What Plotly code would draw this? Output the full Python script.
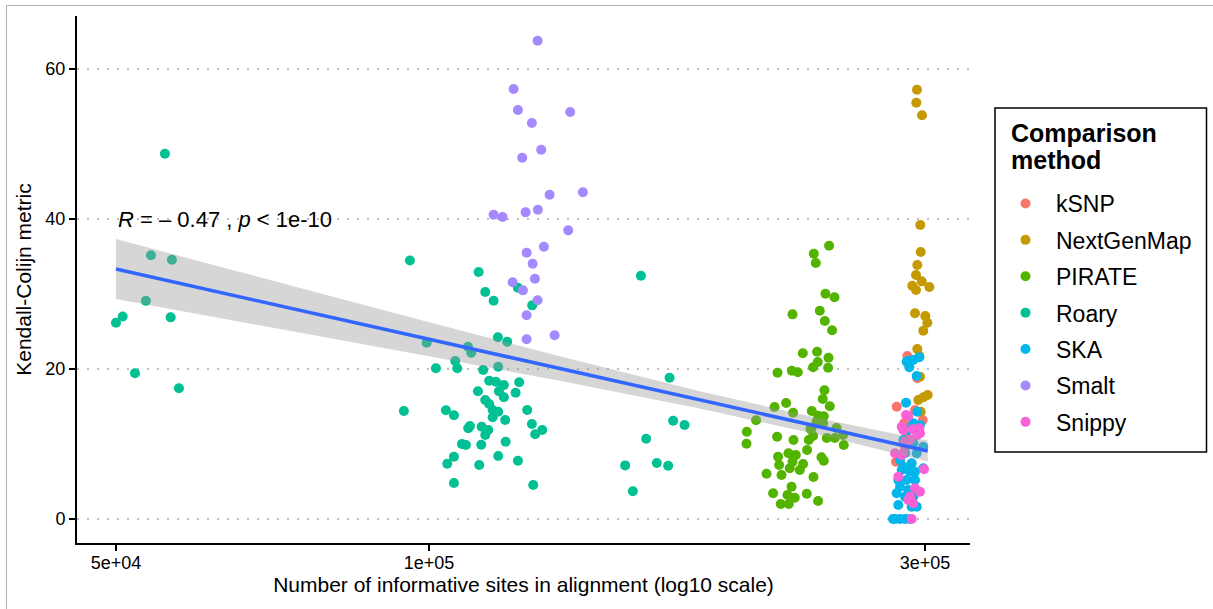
import plotly.graph_objects as go

# ---------------- data ----------------
methods = ["kSNP", "NextGenMap", "PIRATE", "Roary", "SKA", "Smalt", "Snippy"]
colors = ["#F8766D", "#C49A00", "#53B400", "#00C094", "#00B6EB", "#A58AFF", "#FB61D7"]

ksnp_x = [288470, 281780, 293430, 298480, 286380, 294930, 281340, 288090, 287010]
ksnp_y = [21.73, 14.97, 14.53, 13.2, 12.76, 18.76, 7.64, 10.97, 9.47]

ngm_x = [294730, 294280, 298010, 296900, 297160, 294930, 294080, 297820, 291680, 294080, 302870,
         293430, 300200, 301530, 298870, 294930, 296240, 296700, 295580, 298870, 301800, 297160]
ngm_y = [57.24, 55.51, 53.83, 39.2, 35.6, 33.87, 32.53, 31.69, 31.11, 30.53, 30.93,
         27.43, 27.07, 26.17, 25.11, 22.67, 21.73, 18.97, 15.87, 16.23, 16.53, 14.31]

pirate_x = [242580, 234510, 235550, 240650, 245500, 223710, 237640, 240290, 244200, 228860,
            236230, 242260, 236590, 234150, 242050, 216400, 223360, 226340, 240130, 239220,
            242960, 220560, 214960, 233470, 224010, 236750, 239750, 206390, 236440, 232800,
            246590, 234150, 241350, 245660, 250210, 202180, 202040, 216210, 224200, 231930,
            231060, 250590, 216690, 221730, 225350, 217170, 223710, 229010, 227350, 222370,
            218330, 211190, 238540, 239750, 234350, 223220, 214300, 221230, 224830, 230900,
            217980, 221870, 236750, 233360, 235920, 239380]
pirate_y = [36.44, 35.37, 34.13, 30.04, 29.56, 27.29, 27.77, 26.4, 25.16, 22.09,
            22.31, 21.51, 20.93, 20.23, 20.17, 19.51, 19.77, 19.56, 17.16, 16.0,
            15.03, 15.47, 14.93, 14.4, 14.17, 13.77, 13.69, 13.16, 13.03, 12.0,
            12.13, 11.07, 10.8, 10.8, 11.2, 11.64, 10.04, 10.97, 10.53, 10.53,
            9.2, 9.87, 8.31, 8.76, 8.53, 7.2, 7.64, 7.33, 6.53, 6.76,
            5.87, 6.04, 8.23, 7.77, 5.6, 4.31, 3.43, 3.2, 2.84, 3.37,
            2.0, 2.0, 2.4, 12.09, 12.97, 12.76]

roary_x = [50000, 50750, 53430, 56440, 52150, 57480, 55730, 54030, 56600, 95880,
           94600, 99490, 101560, 111630, 113280, 115400, 121780, 125700, 159900, 109020,
           109820, 116500, 118930, 106000, 106470, 112770, 116580, 170390, 114280, 115990,
           118060, 122130, 111460, 116760, 121160, 118060, 113280, 114280, 115150, 116580,
           115150, 118400, 103840, 105690, 124310, 125610, 126530, 128510, 109500, 109090,
           112380, 114030, 113280, 171740, 176140, 161780, 107580, 108540, 112280, 118510,
           105690, 104140, 116580, 121780, 111780, 154430, 165650, 169860, 105690, 125980,
           157070]
roary_y = [26.17, 27.0, 29.09, 26.89, 19.43, 17.43, 48.71, 35.16, 34.56, 34.47,
           14.4, 23.51, 20.09, 32.93, 30.27, 29.11, 30.84, 28.49, 32.44, 22.97,
           22.17, 24.23, 23.64, 21.07, 20.09, 19.87, 20.31, 18.84, 18.44, 18.31,
           17.87, 18.23, 17.03, 17.03, 16.84, 16.23, 15.87, 15.33, 14.53, 14.31,
           13.56, 13.2, 14.49, 13.83, 14.53, 12.67, 11.29, 11.87, 12.4, 12.09,
           12.31, 11.87, 11.2, 13.11, 12.53, 10.71, 10.0, 9.87, 9.91, 10.31,
           8.31, 7.37, 8.4, 7.77, 7.2, 7.15, 7.47, 7.11, 4.8, 4.53,
           3.69]

ska_x = [289110, 292330, 296240, 289750, 294540, 287650, 294930, 292330, 296700, 295580,
         291290, 298870, 287010, 283850, 291290, 298870, 285930, 290200, 282780, 293430,
         283850, 289110, 281780, 287010, 292330, 282780, 291290, 280720, 283850, 287010,
         290200, 292330, 294540, 288090, 284920, 293430, 294540, 288090, 279480, 289110,
         285930]
ska_y = [21.11, 21.2, 21.56, 20.23, 19.07, 15.51, 14.31, 12.76, 12.53, 11.43,
         10.53, 9.64, 8.76, 7.87, 7.43, 6.76, 6.97, 6.31, 5.2, 5.2,
         4.31, 3.87, 3.43, 2.97, 2.97, 1.87, 1.64, 0.0, 0.0, 0.0,
         0.0, 10.09, 8.76, 5.2, 6.53, 6.31, 1.64, 20.97, 0.0, 11.87,
         10.53]

smalt_x = [127210, 120630, 121780, 136730, 125610, 128230, 122950, 130630, 140630, 115400,
           117720, 123870, 127290, 136130, 129000, 124150, 125810, 126450, 120360, 123140,
           127210, 124150, 124150, 132090]
smalt_y = [63.77, 57.33, 54.53, 54.27, 52.8, 49.24, 48.17, 43.24, 43.56, 40.57,
           40.27, 40.89, 41.24, 38.49, 36.31, 35.51, 34.04, 32.04, 31.56, 30.49,
           29.16, 27.16, 23.96, 24.49]

snippy_x = [287650, 285930, 291940, 294930, 296240, 290200, 287010, 280720, 284920, 282780,
            296700, 293430, 290200, 292330, 291290, 299340, 289110, 296700, 285930, 289110,
            284920]
snippy_y = [13.87, 11.87, 11.96, 11.2, 12.09, 10.53, 10.31, 8.76, 8.53, 5.64,
            3.64, 4.09, 2.97, 2.09, 0.0, 6.63, 13.73, 11.43, 8.76, 2.53,
            12.31]

series_x = [ksnp_x, ngm_x, pirate_x, roary_x, ska_x, smalt_x, snippy_x]
series_y = [ksnp_y, ngm_y, pirate_y, roary_y, ska_y, smalt_y, snippy_y]

# linear fit (log10 x) and its 95% confidence band
fit_x = [50000, 70300, 102400, 133600, 182200, 241400, 269000, 301800]
fit_y = [33.33, 28.73, 23.65, 20.06, 15.88, 12.09, 10.62, 9.07]
fit_lower = [29.33, 25.59, 21.43, 18.42, 14.74, 10.99, 9.40, 7.67]
fit_upper = [37.33, 31.87, 25.87, 21.70, 17.02, 13.19, 11.84, 10.47]

x_ticks = [50000, 100000, 300000]
x_ticktext = ["5e+04", "1e+05", "3e+05"]
y_ticks = [0, 20, 40, 60]

annot_text = "<i>R</i> = – 0.47 , <i>p</i> < 1e-10"
legend_title_lines = ["Comparison", "method"]

# ---------------- figure ----------------
FONT = "Liberation Sans, Arial, sans-serif"
fig = go.Figure()

for i, m in enumerate(methods):
    fig.add_trace(go.Scatter(
        x=series_x[i], y=series_y[i], mode="markers", name=m,
        legendgroup=m,
        marker=dict(color=colors[i], size=10, line=dict(width=0)),
    ))

band_x = fit_x + fit_x[::-1]
band_y = fit_upper + fit_lower[::-1]
fig.add_trace(go.Scatter(
    x=band_x, y=band_y, mode="lines", fill="toself",
    fillcolor="rgba(153,153,153,0.4)", line=dict(width=0),
    showlegend=False, hoverinfo="skip",
))
fig.add_trace(go.Scatter(
    x=fit_x, y=fit_y, mode="lines", line=dict(color="#3366FF", width=3.5),
    showlegend=False,
))

fig.add_annotation(
    x=4.699, y=40, xref="x", yref="y", text=annot_text, showarrow=False,
    xanchor="left", yanchor="middle", font=dict(family=FONT, size=22, color="black"),
)

# legend title lines (drawn as text, pixel-placed)
for line_text, ypx in zip(legend_title_lines, [133, 160]):
    fig.add_annotation(
        x=(1009 - 77) / 893, y=(543 - ypx) / 527, xref="paper", yref="paper",
        text="<b>" + line_text + "</b>", showarrow=False,
        xanchor="left", yanchor="middle",
        font=dict(family=FONT, size=25, color="black"),
    )

fig.update_layout(
    width=1213, height=609,
    margin=dict(l=77, r=243, t=16, b=66),
    paper_bgcolor="white", plot_bgcolor="white",
    font=dict(family=FONT, color="black"),
    showlegend=True,
    legend=dict(
        x=1.028, y=(543 - 182) / 527, xanchor="left", yanchor="top",
        bgcolor="rgba(0,0,0,0)", borderwidth=0,
        font=dict(family=FONT, size=23, color="black"),
        tracegroupgap=3.5, itemwidth=51,
    ),
    xaxis=dict(
        type="log", range=[4.6615, 5.5204],
        tickvals=x_ticks, ticktext=x_ticktext,
        showgrid=False, zeroline=False,
        showline=True, linecolor="black", linewidth=2,
        ticks="outside", ticklen=6, tickwidth=2, tickcolor="black",
        ticklabelstandoff=-4,
        tickfont=dict(family=FONT, size=18, color="black"),
        title=dict(text="Number of informative sites in alignment (log10 scale)",
                   font=dict(family=FONT, size=21, color="black"), standoff=5),
    ),
    yaxis=dict(
        range=[-3.2, 67.07],
        tickvals=y_ticks,
        showgrid=True, gridcolor="#BEBEBE", gridwidth=2, griddash="2px,8px",
        zeroline=False,
        showline=True, linecolor="black", linewidth=2,
        ticks="outside", ticklen=6, tickwidth=2, tickcolor="black",
        tickfont=dict(family=FONT, size=18, color="black"),
        title=dict(text="Kendall-Colijn metric",
                   font=dict(family=FONT, size=21, color="black"), standoff=8),
    ),
    shapes=[
        dict(type="line", xref="paper", yref="paper", x0=-0.0790, x1=1.30, y0=1.0199, y1=1.0199,
             line=dict(color="#B0B0B0", width=1)),
        dict(type="line", xref="paper", yref="paper", x0=-0.0790, x1=-0.0790, y0=1.0199, y1=-0.15,
             line=dict(color="#B0B0B0", width=1)),
        # legend frame
        dict(type="rect", xref="paper", yref="paper",
             x0=(995 - 77) / 893, x1=(1206.5 - 77) / 893,
             y0=(543 - 452) / 527, y1=(543 - 108) / 527,
             line=dict(color="black", width=1.5), fillcolor="rgba(0,0,0,0)"),
    ],
)

fig.write_html("out.html")
